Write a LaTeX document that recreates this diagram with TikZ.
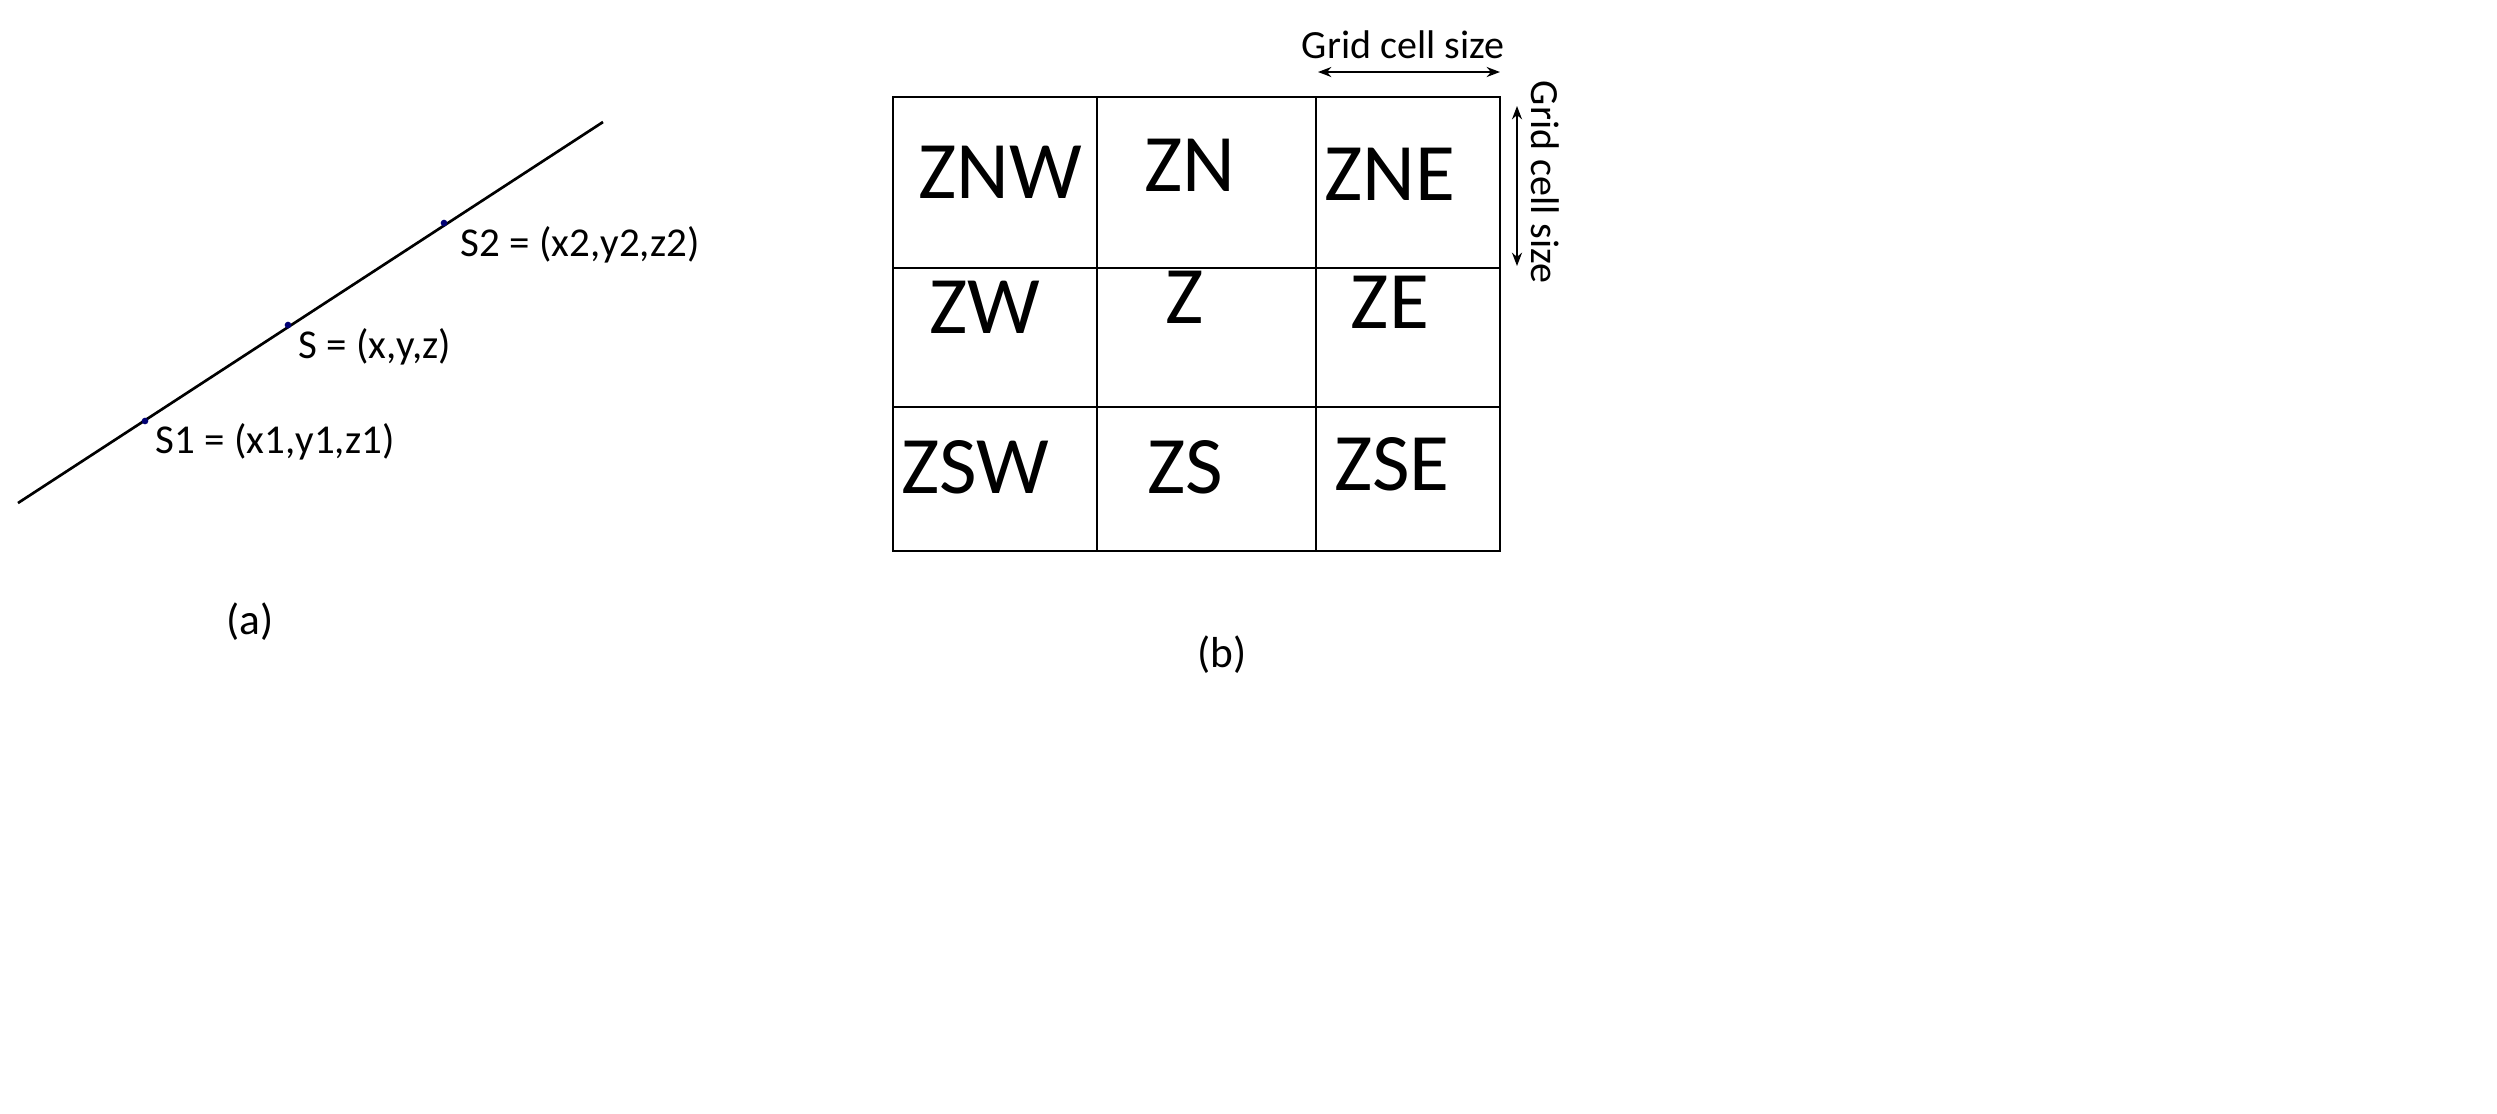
\documentclass[tikz,border=0pt]{standalone}
\usepackage{fontspec}
\setmainfont{Carlito}
\usetikzlibrary{arrows.meta}
\begin{document}
\begin{tikzpicture}[x=0.3pt,y=-0.3pt,
  lbl/.style={font=\fontsize{12.3}{14}\selectfont,anchor=west,inner sep=0},
  big/.style={font=\fontsize{24.5}{28}\selectfont,inner sep=0},
  mid/.style={font=\fontsize{12}{14}\selectfont,inner sep=0},
  pt/.style={circle,fill=blue!45!black,inner sep=0,minimum size=2pt},
  dim/.style={{Stealth[length=4pt]}-{Stealth[length=4pt]},line width=0.6pt}]
\fill[white] (0,0) rectangle (2497,1113);
\useasboundingbox (0,0) rectangle (2497,1113);
\coordinate (A) at (18,503);
\coordinate (B) at (603,122);
\draw[line width=0.8pt] (A) -- (B);
\node[pt] (s1) at (145,421) {};
\node[pt] (s) at (288,325) {};
\node[pt] (s2) at (444,223) {};
\node[lbl] (l2) at (460,245) {S2 = (x2,y2,z2)};
\node[lbl] (l) at (298,347) {S = (x,y,z)};
\node[lbl] (l1) at (155,442) {S1 = (x1,y1,z1)};
\node[mid,font=\fontsize{13}{15}\selectfont] (ca) at (250,622) {(a)};
\draw[line width=0.8pt] (893,97) rectangle (1500,551);
\draw[line width=0.8pt] (1097,97) -- (1097,551) (1316,97) -- (1316,551)
  (893,268) -- (1500,268) (893,407) -- (1500,407);
\node[big] (znw) at (1000,172) {ZNW};
\node[big] (zn) at (1190,165) {ZN};
\node[big] (zne) at (1390,174) {ZNE};
\node[big] (zw) at (985,307) {ZW};
\node[big] (z) at (1185,297) {Z};
\node[big] (ze) at (1390,302) {ZE};
\node[big] (zsw) at (975,467) {ZSW};
\node[big] (zs) at (1185,467) {ZS};
\node[big] (zse) at (1392,464) {ZSE};
\coordinate (h1) at (1318,72);
\coordinate (h2) at (1500,72);
\draw[dim] (h1) -- (h2);
\node[mid] (ht) at (1403,45) {Grid cell size};
\coordinate (v1) at (1517,106);
\coordinate (v2) at (1517,266);
\draw[dim] (v1) -- (v2);
\node[mid,rotate=-90] (vt) at (1545,182) {Grid cell size};
\node[mid,font=\fontsize{13}{15}\selectfont] (cb) at (1222,655) {(b)};
\end{tikzpicture}
\end{document}
